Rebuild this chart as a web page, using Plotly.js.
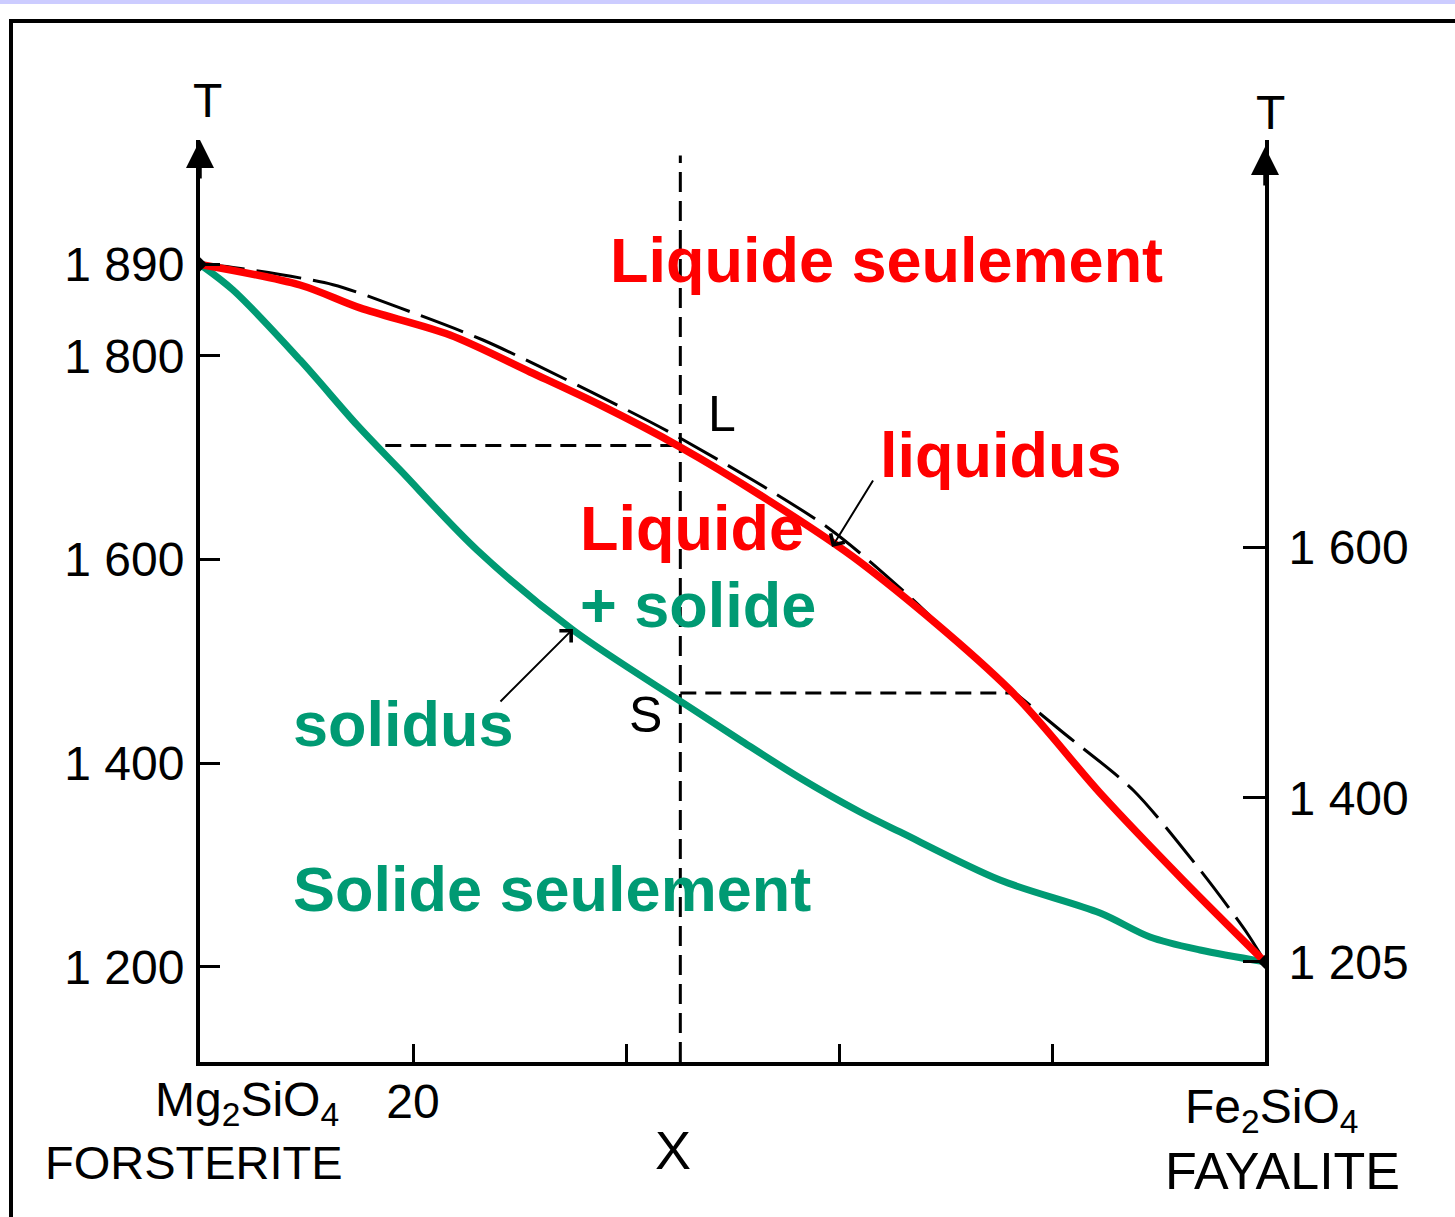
<!DOCTYPE html>
<html>
<head>
<meta charset="utf-8">
<script src="https://cdn.plot.ly/plotly-3.0.1.min.js"></script>
<style>
  html, body { margin: 0; padding: 0; background: #ffffff; }
  #strip { position: absolute; left: 0; top: 0; width: 1455px; height: 4px; background: #ccccff; }
  #frame { position: absolute; left: 9px; top: 19px; width: 1446px; height: 1198px;
           border-top: 4px solid #000; border-left: 4px solid #000; box-sizing: border-box; }
  #plot { position: absolute; left: 0; top: 0; width: 1455px; height: 1217px; }
</style>
</head>
<body>
<div id="strip"></div>
<div id="frame"></div>
<div id="plot"></div>
<script>
// ---------- data ----------
// composition: % Fe2SiO4 (0 = forsterite, 100 = fayalite); temperature in °C
const liquidusX = [0, 9.39, 15.02, 23.47, 30.99, 37.56, 45.07, 52.58, 61.97, 76.06, 84.51, 92.30, 100];
const liquidusT = [1890, 1869.7, 1847.2, 1820.6, 1784.3, 1751.9, 1710.7, 1663.5, 1597.7, 1472.0, 1370.9, 1285.4, 1205];

const solidusX = [0, 3.10, 9.39, 14.74, 18.78, 26.01, 35.02, 45.35, 50.70, 56.34, 61.97, 65.73, 75.12, 84.51, 89.20, 93.90, 100];
const solidusT = [1890, 1864.8, 1796.1, 1732.3, 1688.1, 1609.5, 1530.9, 1459.3, 1422.9, 1385.6, 1352.2, 1332.6, 1285.4, 1253.0, 1229.5, 1216.7, 1205];

// original (scanned) liquidus drawn in black dashes
const scanLiquidusX = [0, 3.10, 12.49, 18.78, 26.57, 36.90, 45.07, 58.87, 66.67, 72.58, 80.75, 87.61, 93.90, 98.31, 100];
const scanLiquidusT = [1890, 1887, 1870, 1847.2, 1815.7, 1763.7, 1719.5, 1632.1, 1563.4, 1504.4, 1432.7, 1373.8, 1295.3, 1233.4, 1205];

// end members
const endX = [0, 100];
const endT = [1890, 1205];

// construction lines: composition X, liquidus point L, solidus point S
const compX = 45.1;
const compTopT = 1997;
const tempL = 1712;
const solidusXAtL = 17.4;
const tempS = 1469;
const liquidusXAtS = 76.1;

// tick labels
const leftTickVals = [1200, 1400, 1600, 1800, 1890];
const leftTickText = ['1 200', '1 400', '1 600', '1 800', '1 890'];
const rightTickVals = [1205, 1366, 1612];
const rightTickText = ['1 205', '1 400', '1 600'];
const bottomTickVals = [20, 40, 60, 80];
const bottomTickText = ['20', '', '', ''];

// ---------- styling / layout ----------
const RED = '#ff0000';
const GREEN = '#009a73';
const FONT = 'Liberation Sans, Arial, Helvetica, sans-serif';
const yRange = [1106.7, 2012.1];

const W = 1455, H = 1217, ML = 200, MR = 190, MT = 140, MB = 155;
const pw = W - ML - MR, ph = H - MT - MB;
const px = p => (p - ML) / pw;          // page pixel -> paper x
const py = p => (H - MB - p) / ph;      // page pixel -> paper y

const traces = [
  { x: [compX, compX], y: [yRange[0], compTopT], mode: 'lines', hoverinfo: 'skip',
    line: { color: '#000', width: 3, dash: '20px,9px' } },
  { x: [solidusXAtL, compX], y: [tempL, tempL], mode: 'lines', hoverinfo: 'skip',
    line: { color: '#000', width: 3, dash: '16px,9px' } },
  { x: [compX, liquidusXAtS], y: [tempS, tempS], mode: 'lines', hoverinfo: 'skip',
    line: { color: '#000', width: 3, dash: '16px,9px' } },
  { x: scanLiquidusX, y: scanLiquidusT, mode: 'lines', hoverinfo: 'skip',
    line: { color: '#000', width: 3, dash: '45px,12px', shape: 'spline', smoothing: 0.8 } },
  { x: endX, y: endT, mode: 'markers', yaxis: 'y2', hoverinfo: 'skip',
    marker: { color: '#000', size: 11, symbol: 'diamond' } },
  { x: solidusX, y: solidusT, mode: 'lines', name: 'solidus',
    line: { color: GREEN, width: 7, shape: 'spline', smoothing: 0.9 } },
  { x: liquidusX, y: liquidusT, mode: 'lines', name: 'liquidus',
    line: { color: RED, width: 7.5, shape: 'spline', smoothing: 0.9 } }
];

function txt(text, x, y, size, color, opts) {
  return Object.assign({
    text: text, xref: 'paper', yref: 'paper', x: px(x), y: py(y),
    xanchor: 'left', yanchor: 'middle', showarrow: false,
    font: { family: FONT, size: size, color: color }
  }, opts || {});
}
const bold = (t, x, y, c) => txt(t, x, y, 63, c, { font: { family: FONT, size: 63, color: c, weight: 'bold' } });

const annotations = [
  txt('T', 207, 100, 48, '#000', { xanchor: 'center' }),
  txt('T', 1270, 112, 48, '#000', { xanchor: 'center' }),
  txt('L', 722, 414, 50, '#000', { xanchor: 'center' }),
  txt('S', 645, 715, 50, '#000', { xanchor: 'center' }),
  txt('X', 673, 1150, 54, '#000', { xanchor: 'center' }),
  txt('Mg<sub>2</sub>SiO<sub>4</sub>', 153, 1103, 48, '#000'),
  txt('FORSTERITE', 43, 1162, 47, '#000'),
  txt('Fe<sub>2</sub>SiO<sub>4</sub>', 1183, 1110, 48, '#000'),
  txt('FAYALITE', 1163, 1171, 52, '#000'),
  bold('Liquide seulement', 608, 260, RED),
  bold('liquidus', 878, 455, RED),
  bold('Liquide', 578, 528, RED),
  bold('+ solide', 578, 605, GREEN),
  bold('solidus', 291, 724, GREEN),
  bold('Solide seulement', 291, 889, GREEN),
  // pointer arrows
  { x: 59.34, y: 1612.4, xref: 'x', yref: 'y', text: '', showarrow: true,
    ax: 42, ay: -68, arrowhead: 4, arrowsize: 1.6, arrowwidth: 2, arrowcolor: '#000' },
  { x: 35.02, y: 1531.9, xref: 'x', yref: 'y', text: '', showarrow: true,
    ax: -74, ay: 74, arrowhead: 4, arrowsize: 1.6, arrowwidth: 2, arrowcolor: '#000' },
  // axis arrow heads
  { x: 0, y: 1, xref: 'x', yref: 'paper', text: '', showarrow: true,
    ax: 0, ay: 40, arrowhead: 2, arrowsize: 1.6, arrowwidth: 3.5, arrowcolor: '#000' },
  { x: 100, y: py(147), xref: 'x', yref: 'paper', text: '', showarrow: true,
    ax: 0, ay: 40, arrowhead: 2, arrowsize: 1.6, arrowwidth: 3.5, arrowcolor: '#000' }
];

const layout = {
  width: W, height: H,
  margin: { l: ML, r: MR, t: MT, b: MB, pad: 0 },
  paper_bgcolor: 'rgba(0,0,0,0)', plot_bgcolor: 'rgba(0,0,0,0)',
  showlegend: false,
  font: { family: FONT, color: '#000' },
  xaxis: {
    range: [0, 100], showgrid: false, zeroline: false,
    showline: true, linecolor: '#000', linewidth: 4,
    ticks: 'inside', ticklen: 18, tickwidth: 3, tickcolor: '#000',
    tickvals: bottomTickVals, ticktext: bottomTickText,
    tickfont: { family: FONT, size: 48, color: '#000' }, ticklabelstandoff: -6
  },
  yaxis: {
    range: yRange, showgrid: false, zeroline: false,
    showline: true, linecolor: '#000', linewidth: 4,
    ticks: 'inside', ticklen: 20, tickwidth: 3, tickcolor: '#000',
    tickvals: leftTickVals, ticktext: leftTickText,
    tickfont: { family: FONT, size: 48, color: '#000' }, ticklabelstandoff: 2
  },
  yaxis2: {
    overlaying: 'y', side: 'right', range: yRange, showgrid: false, zeroline: false,
    showline: true, linecolor: '#000', linewidth: 4,
    ticks: 'inside', ticklen: 22, tickwidth: 3, tickcolor: '#000',
    tickvals: rightTickVals, ticktext: rightTickText,
    tickfont: { family: FONT, size: 48, color: '#000' }, ticklabelstandoff: 10
  },
  annotations: annotations
};

Plotly.newPlot('plot', traces, layout, { displayModeBar: false, staticPlot: true });
</script>
</body>
</html>
